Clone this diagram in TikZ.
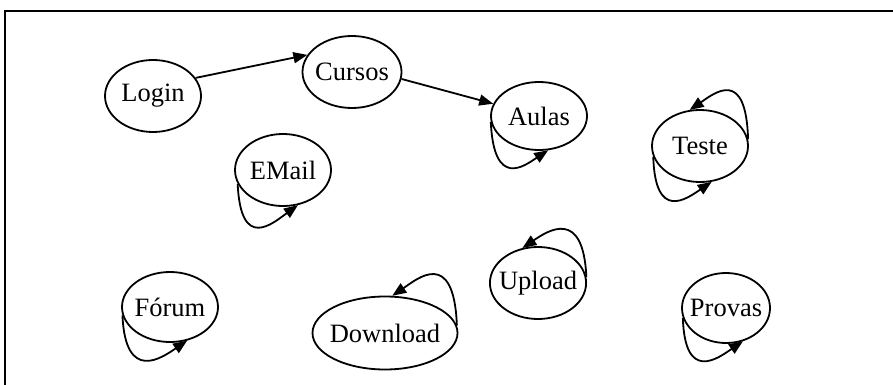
\documentclass[tikz,border=0pt]{standalone}
\usepackage{fontspec}
\setmainfont{Liberation Serif}
\usetikzlibrary{shapes.geometric,arrows.meta}
\tikzset{
  pstate/.style={ellipse, draw=black, line width=1.8pt, minimum width=96pt,
    minimum height=72pt, inner xsep=-5pt, inner ysep=0pt,
    font=\fontsize{26.5}{30}\selectfont},
  parrow/.style={-{Triangle[length=14pt,width=11pt]}, line width=1.8pt}
}
\begin{document}
\begin{tikzpicture}[x=1pt,y=-1pt]
        \useasboundingbox (0,0) rectangle (893,385);
        \draw[line width=2.2pt] (5,385) -- (5,11) -- (893,11);
        \node[pstate] (login) at (153,96) {Login};
        \node[pstate, minimum width=99pt] (cursos) at (352,72) {Cursos};
        \node[pstate, minimum height=68pt] (aulas) at (539,116) {Aulas};
        \node[pstate] (teste) at (700,146) {Teste};
        \node[pstate] (email) at (283,170) {EMail};
        \node[pstate, minimum height=70pt] (forum) at (170,307) {Fórum};
        \node[pstate, minimum width=145pt, minimum height=73pt] (download) at (385,333) {Download};
        \node[pstate] (upload) at (538,283) {Upload};
        \node[pstate, minimum width=88pt, minimum height=70pt] (provas) at (726,308) {Provas};
        \draw[parrow] (login.23) -- (cursos.159);
        \draw[parrow] (cursos.-8) -- (aulas.165);
        % self loops
        \draw[parrow] (aulas.187) .. controls +(3,68) and +(-23,15) .. (aulas.285);
        \draw[parrow] (email.197) .. controls +(3,68) and +(-25,18) .. (email.293);
        \draw[parrow] (teste.193) .. controls +(2,65) and +(-25,17) .. (teste.288);
        \draw[parrow] (teste.8) .. controls +(-2,-72) and +(25,-17) .. (teste.106);
        \draw[parrow] (forum.190) .. controls +(3,68) and +(-25,17) .. (forum.297);
        \draw[parrow] (download.6) .. controls +(-3,-78) and +(25,-17) .. (download.79);
        \draw[parrow] (upload.7) .. controls +(-3,-70) and +(25,-17) .. (upload.114);
        \draw[parrow] (provas.193) .. controls +(2,65) and +(-25,17) .. (provas.297);
\end{tikzpicture}
\end{document}
